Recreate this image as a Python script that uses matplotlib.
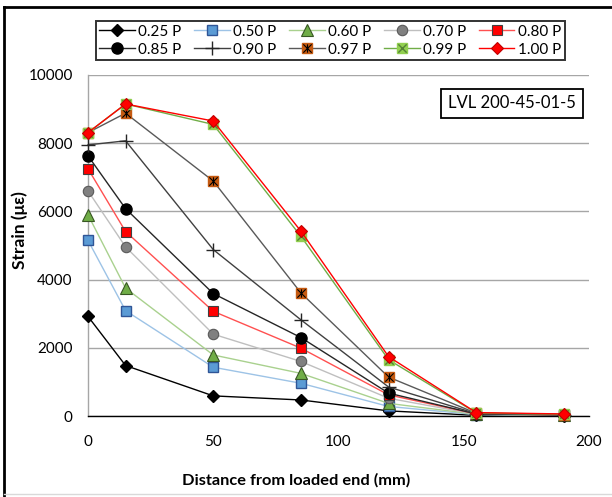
import matplotlib
matplotlib.use("Agg")
import matplotlib.pyplot as plt
from matplotlib.path import Path
from matplotlib.legend_handler import HandlerTuple
from matplotlib.lines import Line2D

plt.rcParams['font.family'] = ['Lato', 'DejaVu Sans']

distance = [0, 15, 50, 85, 120, 155, 190]
labels = ["0.25 P", "0.50 P", "0.60 P", "0.70 P", "0.80 P",
          "0.85 P", "0.90 P", "0.97 P", "0.99 P", "1.00 P"]
s025 = [2920, 1480, 590, 470, 150, 20, 10]
s050 = [5150, 3090, 1430, 960, 280, 40, 20]
s060 = [5900, 3750, 1790, 1250, 370, 50, 25]
s070 = [6600, 4960, 2400, 1600, 520, 50, 25]
s080 = [7250, 5410, 3070, 1990, 620, 60, 30]
s085 = [7630, 6080, 3590, 2300, 670, 60, 30]
s090 = [7950, 8070, 4880, 2820, 850, 70, 35]
s097 = [8310, 8880, 6890, 3610, 1140, 80, 40]
s099 = [8310, 9150, 8550, 5270, 1650, 90, 50]
s100 = [8310, 9150, 8650, 5420, 1740, 100, 60]
series = [s025, s050, s060, s070, s080, s085, s090, s097, s099, s100]
x_ticks = [0, 50, 100, 150, 200]
y_ticks = [0, 2000, 4000, 6000, 8000, 10000]
box_text = "LVL 200-45-01-5"

W, H = 612, 497
fig = plt.figure(figsize=(W / 100, H / 100), dpi=100)
ax = fig.add_axes([88 / W, 1 - 416 / H, (589 - 88) / W, (416 - 75) / H])

star_path = Path([(-1, -1), (1, 1), (-1, 1), (1, -1), (0, -1), (0, 1)],
                 [Path.MOVETO, Path.LINETO, Path.MOVETO, Path.LINETO, Path.MOVETO, Path.LINETO])
x_path = Path([(-1, -1), (1, 1), (-1, 1), (1, -1)],
              [Path.MOVETO, Path.LINETO, Path.MOVETO, Path.LINETO])

styles = [
    dict(color='#000000', lw=1.0, marker='D', ms=6.5, mfc='#000000', mec='#000000'),
    dict(color='#9dc3e6', lw=1.0, marker='s', ms=7.2, mfc='#5b9bd5', mec='#2f5597', mew=1.0),
    dict(color='#a9d18e', lw=1.0, marker='^', ms=8, mfc='#70ad47', mec='#385723', mew=0.8),
    dict(color='#bfbfbf', lw=1.0, marker='o', ms=7.5, mfc='#808080', mec='#595959', mew=0.8),
    dict(color='#ff5050', lw=1.0, marker='s', ms=7.5, mfc='#ff0000', mec='#404040', mew=0.8),
    dict(color='#262626', lw=1.0, marker='o', ms=8, mfc='#000000', mec='#000000'),
    dict(color='#404040', lw=1.0, marker='+', ms=10, mfc='none', mec='#262626', mew=1.0),
    dict(color='#595959', lw=1.0, marker='s', ms=7.5, mfc='#c55a11', mec='#c55a11'),
    dict(color='#70ad47', lw=1.0, marker='s', ms=7.5, mfc='#92d050', mec='#92d050'),
    dict(color='#ff0000', lw=1.0, marker='D', ms=6.5, mfc='#ff0000', mec='#c00000', mew=0.8),
]

handles = []
for i, (vals, st) in enumerate(zip(series, styles)):
    ln, = ax.plot(distance, vals, zorder=3 + i, clip_on=False, **st)
    h = ln
    if i == 7:
        ov, = ax.plot(distance, vals, ls='none', marker=star_path, ms=6, mec='#000000',
                      mew=0.8, zorder=3 + i + 0.5, clip_on=False)
        h = (ln, ov)
    elif i == 8:
        ov, = ax.plot(distance, vals, ls='none', marker=x_path, ms=6, mec='#548235',
                      mew=1.0, zorder=3 + i + 0.5, clip_on=False)
        h = (ln, ov)
    handles.append(h)

ax.set_xlim(0, 200)
ax.set_ylim(0, 10000)
ax.set_xticks(x_ticks)
ax.set_yticks(y_ticks)
ax.tick_params(axis='both', length=0, labelsize=11, colors='#000000')
ax.tick_params(axis='x', pad=14)
ax.tick_params(axis='y', pad=11)
ax.yaxis.grid(True, color='#a6a6a6', lw=1.0)
ax.set_axisbelow(True)
for s in ['top', 'right']:
    ax.spines[s].set_visible(False)
ax.spines['left'].set_color('#a6a6a6')
ax.spines['left'].set_linewidth(1.0)
ax.spines['bottom'].set_color('#000000')
ax.spines['bottom'].set_linewidth(1.0)

fig.text(296 / W, 1 - 480 / H, "Distance from loaded end (mm)", ha='center', va='center',
         fontsize=11.8, fontweight='bold')
fig.text(20 / W, 1 - 230 / H, "Strain (\u03bc\u03b5)", ha='center', va='center',
         rotation=90, fontsize=12.5, fontweight='bold')

ax.text((512 - 88) / 501, (416 - 103.5) / 341, box_text, transform=ax.transAxes,
        ha='center', va='center', fontsize=12, zorder=20,
        bbox=dict(boxstyle='square,pad=0.4', fc='white', ec='black', lw=1.3))

# legend filled row by row (matplotlib fills columns first)
order = [0, 5, 1, 6, 2, 7, 3, 8, 4, 9]
leg = fig.legend([handles[k] for k in order], [labels[k] for k in order], ncol=5,
                 loc='lower left',
                 bbox_to_anchor=(88 / W, 1 - 68 / H, (573 - 88) / W, 51 / H),
                 mode='expand', fontsize=11, frameon=True, fancybox=False,
                 edgecolor='black', handlelength=2.3, handletextpad=0.25,
                 borderpad=0.25, labelspacing=0.25, columnspacing=0.6,
                 handler_map={tuple: HandlerTuple(ndivide=1)})
leg.get_frame().set_linewidth(1.4)

# outer chart border
fig.add_artist(Line2D([4 / W, 4 / W], [0, 1 - 7 / H], color='black', lw=2, transform=fig.transFigure))
fig.add_artist(Line2D([4 / W, 1], [1 - 7 / H, 1 - 7 / H], color='black', lw=2, transform=fig.transFigure))
fig.add_artist(Line2D([4 / W, 1], [1 - 494 / H, 1 - 494 / H], color='#d9d9d9', lw=1, transform=fig.transFigure))

fig.savefig("out.png", dpi=100)
